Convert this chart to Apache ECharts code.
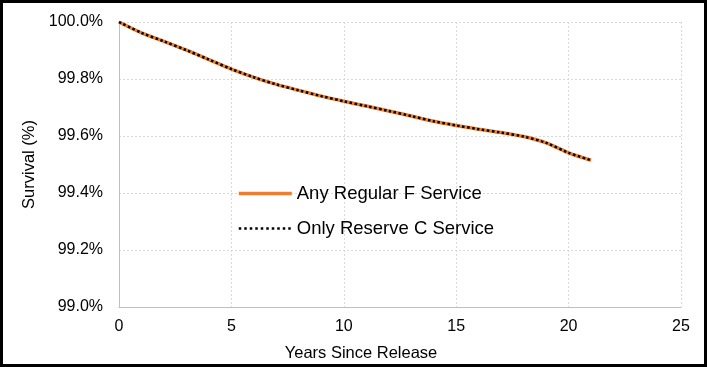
<!DOCTYPE html>
<html>
<head>
<meta charset="utf-8">
<script src="https://cdn.jsdelivr.net/npm/echarts@6/dist/echarts.min.js"></script>
<style>
html,body{margin:0;padding:0;background:#fff;}
#c{width:707px;height:367px;}
</style>
</head>
<body>
<div id="c"></div>
<script>
var years = [0,1,2,3,4,5,6,7,8,9,10,11,12,13,14,15,16,17,18,19,20,21];
var anyRegularF = [100.000,99.962,99.932,99.901,99.868,99.835,99.806,99.781,99.760,99.740,99.722,99.705,99.688,99.670,99.652,99.637,99.624,99.612,99.598,99.576,99.541,99.515];
var onlyReserveC = [100.000,99.962,99.932,99.901,99.868,99.835,99.806,99.781,99.760,99.740,99.722,99.705,99.688,99.670,99.652,99.637,99.624,99.612,99.598,99.576,99.541,99.515];
var seriesNames = ['Any Regular F Service','Only Reserve C Service'];

function pairs(xs, ys){ return xs.map(function(x,i){ return [x, ys[i]]; }); }

var font = '"Liberation Sans", Arial, sans-serif';
var chart = echarts.init(document.getElementById('c'), null, {renderer:'canvas'});
chart.setOption({
  animation:false,
  backgroundColor:'#fff',
  textStyle:{fontFamily:font},
  graphic:[{type:'rect',shape:{x:1.5,y:1.5,width:704,height:364},style:{fill:'none',stroke:'#000',lineWidth:3},z:100}],
  grid:{left:119,right:26,top:22,bottom:59},
  legend:{
    orient:'vertical', left:232, top:179, itemWidth:53, itemHeight:20, itemGap:16,
    itemStyle:{opacity:0},
    textStyle:{fontSize:18.5,color:'#000',fontFamily:font},
    data:[
      {name:seriesNames[0], lineStyle:{width:3.5,color:'#ED7D31'}},
      {name:seriesNames[1], lineStyle:{width:2.5,color:'#000',type:[2.5,3]}}
    ]
  },
  xAxis:{
    type:'value', min:0, max:25, interval:5,
    name:'Years Since Release', nameLocation:'middle', nameGap:38,
    nameTextStyle:{fontSize:16.5,color:'#000',fontFamily:font,padding:[0,78,0,0]},
    axisLine:{show:true,lineStyle:{color:'#bfbfbf',width:1}},
    axisTick:{show:false},
    axisLabel:{fontSize:16,color:'#000',margin:12,fontFamily:font},
    splitLine:{show:true,lineStyle:{color:'#d9d9d9',type:[2,2],width:1}}
  },
  yAxis:{
    type:'value', min:99.0, max:100.0, interval:0.2,
    name:'Survival (%)', nameLocation:'middle', nameGap:80, nameRotate:90,
    nameTextStyle:{fontSize:16.5,color:'#000',fontFamily:font},
    axisLine:{show:true,lineStyle:{color:'#bfbfbf',width:1}},
    axisTick:{show:false},
    axisLabel:{fontSize:16,color:'#000',margin:16,fontFamily:font,
      formatter:function(v){return v.toFixed(1)+'%';}},
    splitLine:{show:true,lineStyle:{color:'#d9d9d9',type:[2,2],width:1}}
  },
  series:[
    {name:seriesNames[0],type:'line',data:pairs(years,anyRegularF),smooth:0.3,showSymbol:false,symbol:'none',
      lineStyle:{color:'#ED7D31',width:3.5},itemStyle:{color:'#ED7D31'},z:2},
    {name:seriesNames[1],type:'line',data:pairs(years,onlyReserveC),smooth:0.3,showSymbol:false,symbol:'none',
      lineStyle:{color:'#000',width:2.5,type:[2.5,2.5]},itemStyle:{color:'#000'},z:3}
  ]
});
</script>
</body>
</html>
